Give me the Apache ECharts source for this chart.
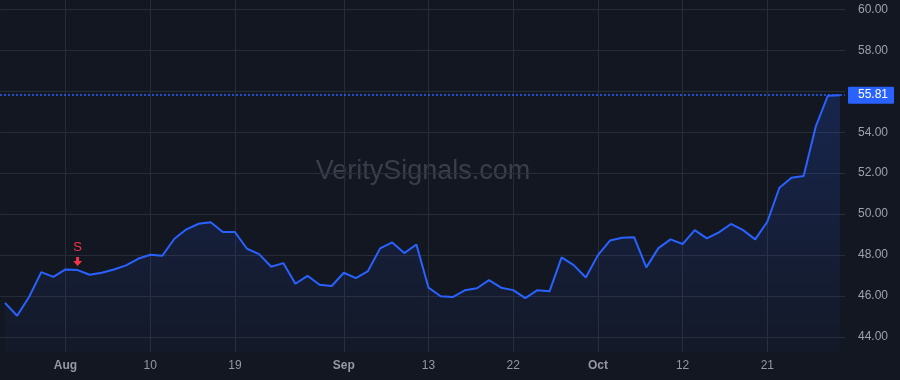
<!DOCTYPE html>
<html>
<head>
<meta charset="utf-8">
<script src="https://cdn.jsdelivr.net/npm/echarts@6/dist/echarts.min.js"></script>
<style>
html,body{margin:0;padding:0;background:#131722;}
#chart{width:900px;height:380px;}
</style>
</head>
<body>
<div id="chart"></div>
<script>
// ---- data ----
const values = [
  45.67, 45.04, 45.97, 47.17, 46.94, 47.30, 47.27, 47.04, 47.14, 47.30,
  47.50, 47.82, 48.02, 47.97, 48.80, 49.26, 49.53, 49.60, 49.13, 49.13,
  48.31, 48.05, 47.43, 47.61, 46.60, 46.99, 46.55, 46.49, 47.14, 46.88,
  47.22, 48.33, 48.62, 48.10, 48.52, 46.41, 45.99, 45.95, 46.28, 46.38,
  46.78, 46.41, 46.29, 45.90, 46.29, 46.23, 47.89, 47.51, 46.91, 48.00,
  48.71, 48.85, 48.87, 47.40, 48.34, 48.77, 48.54, 49.22, 48.82, 49.11,
  49.52, 49.22, 48.77, 49.63, 51.29, 51.78, 51.86, 54.27, 55.78, 55.81
];
const xTickIndex  = [5, 12, 19, 28, 35, 42, 49, 56, 63];
const xTickLabels = ['Aug', '10', '19', 'Sep', '13', '22', 'Oct', '12', '21'];
const monthLabels = ['Aug', 'Sep', 'Oct'];
const yTicks      = [44, 46, 48, 50, 52, 54, 56, 58, 60];
const yLabelTicks = [44, 46, 48, 50, 52, 54, 58, 60];
const lastPrice   = 55.81;
const signalIndex = 6;
const signalText  = 'S';
const watermark   = 'VeritySignals.com';

// ---- chart ----
const seriesData = values.map((v, i) => [i, v]);
const chart = echarts.init(document.getElementById('chart'));
const FONT = '"Liberation Sans", Arial, sans-serif';
const GRID = '#282c37';

chart.setOption({
  backgroundColor: '#131722',
  animation: false,
  textStyle: { fontFamily: FONT },
  graphic: [{
    type: 'text',
    x: 423,
    y: 172,
    style: {
      text: watermark,
      font: '27px ' + FONT,
      fill: '#3a3e4a',
      align: 'center',
      verticalAlign: 'middle'
    },
    z: 0,
    silent: true
  }],
  grid: { left: 0, right: 55, top: 0, bottom: 28, containLabel: false },
  xAxis: {
    type: 'value',
    min: -0.413,
    max: 69.42,
    axisLine: { show: false },
    axisTick: { show: false, customValues: xTickIndex },
    splitLine: { show: true, lineStyle: { color: GRID, width: 1 } },
    axisLabel: {
      customValues: xTickIndex,
      margin: 8,
      fontSize: 12,
      color: '#9598a1',
      fontFamily: FONT,
      formatter: function (v) {
        const k = xTickIndex.indexOf(Math.round(v));
        if (k < 0) return '';
        const t = xTickLabels[k];
        return monthLabels.indexOf(t) >= 0 ? '{m|' + t + '}' : t;
      },
      rich: { m: { fontWeight: 'bold', fontSize: 12, color: '#9598a1', fontFamily: FONT } }
    }
  },
  yAxis: {
    type: 'value',
    position: 'right',
    min: 43.27,
    max: 60.454,
    scale: true,
    axisLine: { show: false },
    axisTick: { show: true, length: 3, customValues: yTicks, lineStyle: { color: GRID } },
    splitLine: { show: true, lineStyle: { color: GRID, width: 1 } },
    axisLabel: {
      customValues: yLabelTicks,
      margin: 13,
      fontSize: 12,
      color: '#9ea1aa',
      fontFamily: FONT,
      formatter: v => v.toFixed(2)
    }
  },
  series: [{
    type: 'line',
    data: seriesData,
    showSymbol: false,
    symbol: 'none',
    z: 3,
    lineStyle: { color: '#2962ff', width: 2 },
    areaStyle: {
      origin: 'start',
      color: new echarts.graphic.LinearGradient(0, 0, 0, 1, [
        { offset: 0, color: 'rgba(41,98,255,0.28)' },
        { offset: 1, color: 'rgba(41,98,255,0.04)' }
      ])
    },
    markLine: {
      silent: true,
      symbol: 'none',
      data: [{ yAxis: lastPrice }],
      lineStyle: { color: '#2962ff', type: [2, 2], width: 1.5, opacity: 1 },
      label: {
        show: true,
        position: 'end',
        distance: 3,
        formatter: lastPrice.toFixed(2),
        color: '#ffffff',
        fontSize: 12,
        fontFamily: FONT,
        backgroundColor: '#2962ff',
        padding: [3, 6, 2, 10],
        borderRadius: 1
      }
    },
    markPoint: {
      silent: true,
      data: [{ coord: [signalIndex, values[signalIndex]] }],
      symbol: 'path://M3,0 L6,0 L6,4 L9,4 L4.5,9 L0,4 L3,4 Z',
      symbolSize: [9, 9],
      symbolOffset: [0, -8.5],
      itemStyle: { color: '#f23645' },
      label: {
        show: true,
        position: 'top',
        distance: 3,
        formatter: signalText,
        color: '#f23645',
        fontSize: 13,
        fontFamily: FONT
      }
    }
  }]
});
</script>
</body>
</html>
